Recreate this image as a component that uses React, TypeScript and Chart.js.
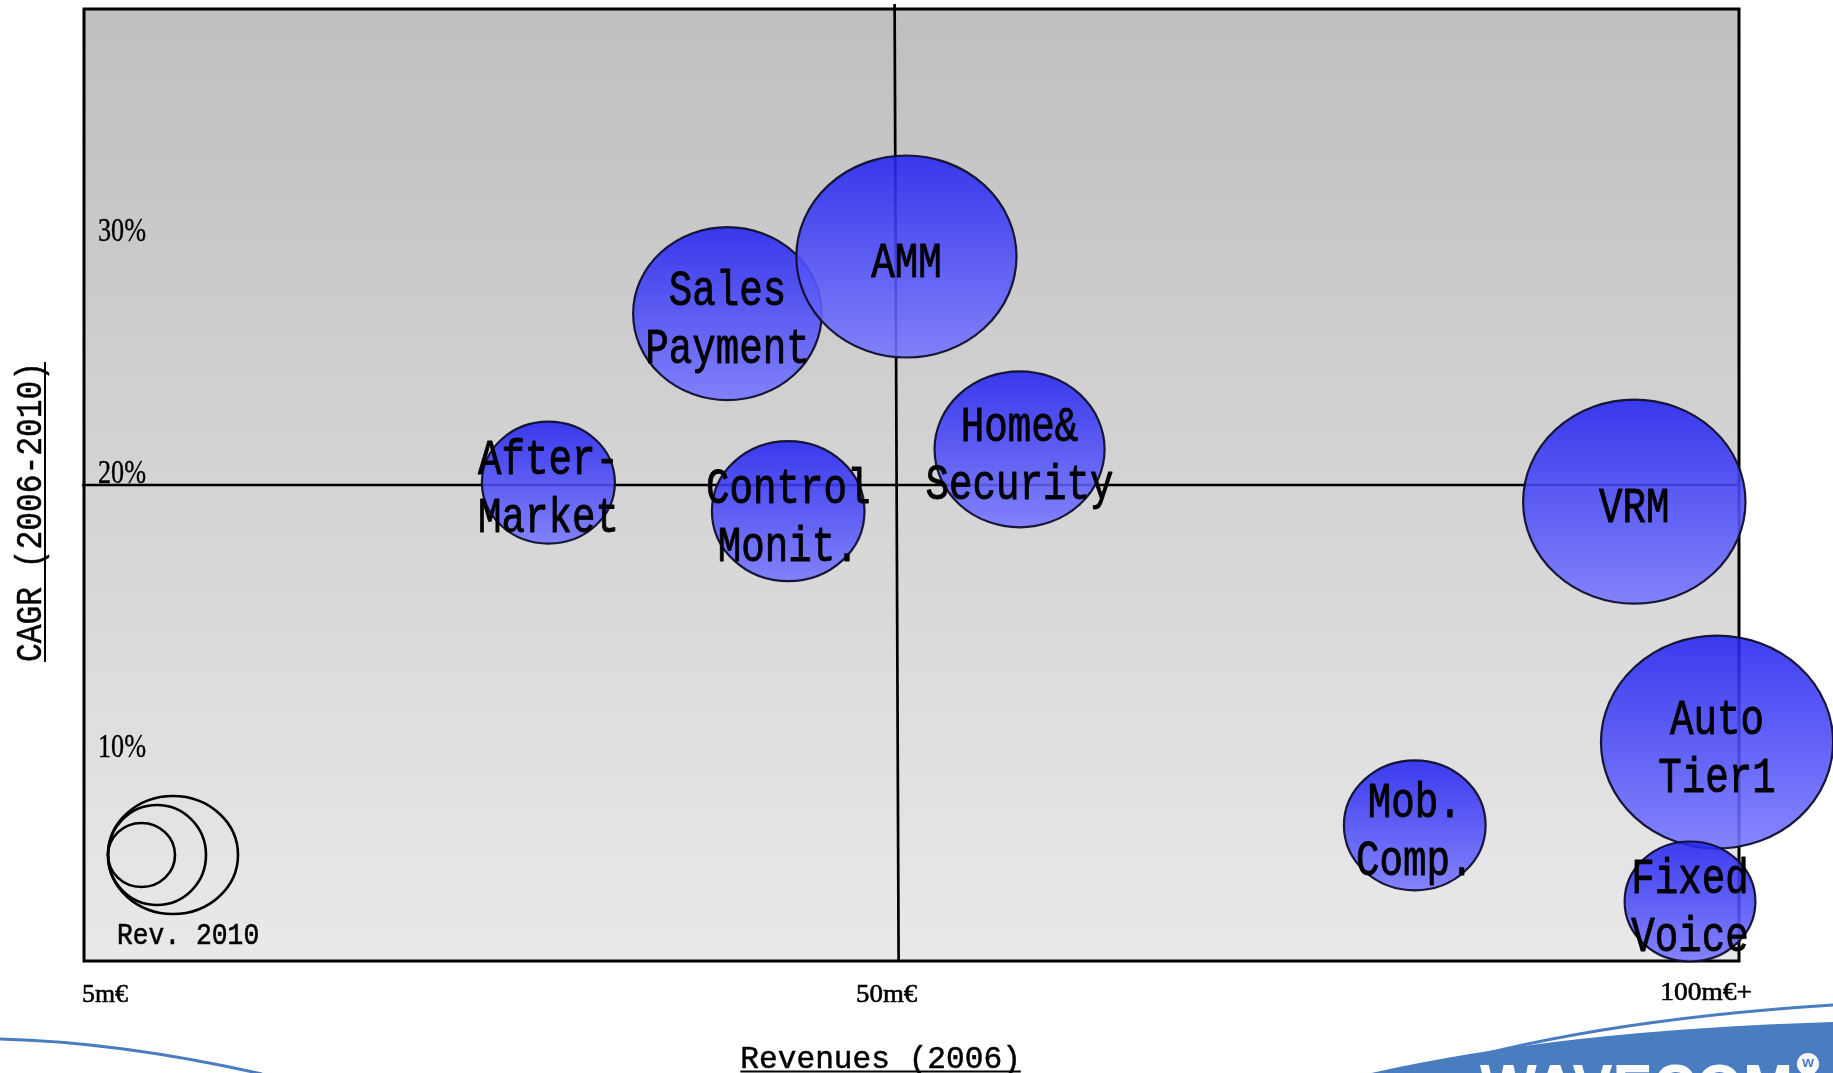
import { useEffect, useRef } from 'react';
import { Chart, registerables } from 'chart.js';

Chart.register(...registerables);

// ---- data ----
const segmentNames = [
  'Sales\nPayment',
  'AMM',
  'After-\nMarket',
  'Control\nMonit.',
  'Home&\nSecurity',
  'VRM',
  'Mob.\nComp.',
  'Auto\nTier1',
  'Fixed\nVoice',
];
// Revenues (2006), position on the 5m€ .. 100m€+ axis
const revenues2006 = [40.1, 50.7, 29.5, 43.7, 57.4, 93.8, 80.8, 98.7, 97.1];
// CAGR 2006-2010 (%)
const cagr = [27.2, 29.6, 20.1, 18.9, 21.5, 19.3, 5.7, 9.2, 2.5];
// bubble size ~ revenues 2010
const revenues2010Size = [86.5, 101, 61, 70, 78, 102, 65, 106.5, 60];

const xTickValues = [5, 50, 100];
const xTickLabels = ['5m€', '50m€', '100m€+'];
const yTickValues = [10, 20, 30];
const yTickLabels = ['10%', '20%', '30%'];
const legendText = 'Rev. 2010';
const xTitle = 'Revenues (2006)';
const yTitle = 'CAGR (2006-2010)';

// ---- styles ----
const MONO = '"Liberation Mono", "DejaVu Sans Mono", monospace';
const SERIF = '"Liberation Serif", "DejaVu Serif", serif';
const BUBBLE_ASPECT = 1.09;
const legendRings = [
  { rx: 65, ry: 59 },
  { rx: 49, ry: 50 },
  { rx: 33.5, ry: 32 },
];
const yTickOffsets = [23, -13, -17];

const capCache: Record<string, number> = {};
function getCapRatio(ctx: CanvasRenderingContext2D, family: string) {
  if (!capCache[family]) {
    ctx.save();
    ctx.font = `100px ${family}`;
    const m = ctx.measureText('H');
    capCache[family] = (m.actualBoundingBoxAscent || 66) / 100;
    ctx.restore();
  }
  return capCache[family];
}

function drawFit(
  ctx: CanvasRenderingContext2D,
  text: string,
  x: number,
  cy: number,
  capPx: number,
  width: number,
  align: CanvasTextAlign,
  family = MONO,
  embolden = 0
) {
  const ratio = getCapRatio(ctx, family);
  const fontPx = capPx / ratio;
  ctx.save();
  ctx.font = `${fontPx}px ${family}`;
  const w = ctx.measureText(text).width;
  const sx = width / w;
  ctx.translate(x, cy + capPx / 2);
  ctx.scale(sx, 1);
  ctx.textAlign = align;
  ctx.textBaseline = 'alphabetic';
  ctx.fillStyle = '#000';
  ctx.fillText(text, 0, 0);
  if (embolden > 0) {
    ctx.strokeStyle = '#000';
    ctx.lineWidth = embolden;
    ctx.lineJoin = 'round';
    ctx.strokeText(text, 0, 0);
  }
  ctx.restore();
  return width;
}

function drawMono(
  ctx: CanvasRenderingContext2D,
  text: string,
  x: number,
  cy: number,
  capPx: number,
  charW: number,
  align: CanvasTextAlign,
  embolden = 0
) {
  return drawFit(ctx, text, x, cy, capPx, charW * text.length, align, MONO, embolden);
}

const decoPlugin = {
  id: 'deco',
  beforeDatasetsDraw(chart: any) {
    const { ctx, chartArea: a, scales } = chart;
    const xs = scales.x;
    const ys = scales.y;
    ctx.save();
    const g = ctx.createLinearGradient(0, a.top, 0, a.bottom);
    g.addColorStop(0, '#bfbfbf');
    g.addColorStop(1, '#e9e9e9');
    ctx.fillStyle = g;
    ctx.fillRect(a.left, a.top, a.right - a.left, a.bottom - a.top);

    ctx.strokeStyle = '#000';
    ctx.lineWidth = 2.7;
    // horizontal 20% line
    const hy = ys.getPixelForValue(20);
    ctx.beginPath();
    ctx.moveTo(a.left - 2, hy);
    ctx.lineTo(a.right, hy);
    ctx.stroke();
    // vertical 50m€ line
    const vx = xs.getPixelForValue(50);
    ctx.beginPath();
    ctx.moveTo(vx, a.top - 5);
    ctx.lineTo(vx + 4, a.bottom);
    ctx.stroke();

    // border
    ctx.lineWidth = 3;
    ctx.strokeRect(a.left, a.top, a.right - a.left, a.bottom - a.top);
    ctx.restore();
  },
  afterDatasetsDraw(chart: any) {
    const { ctx, chartArea: a } = chart;
    const meta = chart.getDatasetMeta(0);
    const ds = chart.data.datasets[0].data as any[];
    ctx.save();
    meta.data.forEach((el: any, i: number) => {
      const ry = ds[i].r;
      const rx = ry * BUBBLE_ASPECT;
      const g = ctx.createLinearGradient(0, el.y - ry, 0, el.y + ry);
      g.addColorStop(0, 'rgba(36,36,240,0.88)');
      g.addColorStop(1, 'rgba(118,118,255,0.88)');
      ctx.beginPath();
      ctx.ellipse(el.x, el.y, rx, ry, 0, 0, Math.PI * 2);
      ctx.fillStyle = g;
      ctx.fill();
      ctx.lineWidth = 2.2;
      ctx.strokeStyle = 'rgba(15,15,45,0.95)';
      ctx.stroke();
    });
    // labels
    meta.data.forEach((el: any, i: number) => {
      const lines = segmentNames[i].split('\n');
      const lh = 58;
      const top = el.y + 4 - ((lines.length - 1) * lh) / 2;
      lines.forEach((ln, k) => {
        drawMono(ctx, ln, el.x, top + k * lh, 33, 23.5, 'center', 0.9);
      });
    });

    // size legend
    const lx = a.left + 24;
    const lcy = a.bottom - 106;
    ctx.strokeStyle = '#000';
    ctx.lineWidth = 2.6;
    legendRings.forEach((r) => {
      ctx.beginPath();
      ctx.ellipse(lx + r.rx, lcy, r.rx, r.ry, 0, 0, Math.PI * 2);
      ctx.stroke();
    });
    drawMono(ctx, legendText, a.left + 33, a.bottom - 27, 20, 15.8, 'left', 0.6);
    ctx.restore();
  },
  afterDraw(chart: any) {
    const { ctx, chartArea: a, scales } = chart;
    const xs = scales.x;
    const ys = scales.y;
    ctx.save();
    // y tick labels (inside plot)
    yTickValues.forEach((v, i) => {
      drawFit(ctx, yTickLabels[i], a.left + 14, ys.getPixelForValue(v) + yTickOffsets[i], 22, 48, 'left', SERIF, 0.4);
    });
    // x tick labels
    xTickValues.forEach((v, i) => {
      const cy = a.bottom + 32;
      const label = xTickLabels[i];
      const w = 15.3 * label.length;
      if (i === 0) drawFit(ctx, label, a.left - 2, cy, 17, w, 'left', SERIF, 0.6);
      else if (i === xTickValues.length - 1) drawFit(ctx, label, a.right + 13, cy - 2, 17, w, 'right', SERIF, 0.6);
      else drawFit(ctx, label, xs.getPixelForValue(v) - 8, cy, 17, w, 'center', SERIF, 0.6);
    });

    // x title, underlined
    const tx = xs.getPixelForValue(50) - 14;
    const tw = drawMono(ctx, xTitle, tx, 1057, 21, 18.7, 'center', 0.5);
    ctx.fillStyle = '#000';
    ctx.fillRect(tx - tw / 2, 1070.5, tw, 2);

    // y title rotated, underlined
    ctx.save();
    ctx.translate(28.5, 512);
    ctx.rotate(-Math.PI / 2);
    const yw = drawMono(ctx, yTitle, 0, 0, 25, 18.75, 'center', 0.5);
    ctx.fillStyle = '#000';
    ctx.fillRect(-yw / 2, 15.5, yw, 2);
    ctx.restore();

    // decorative swooshes
    const blue = '#4a7cc0';
    ctx.strokeStyle = blue;
    ctx.lineWidth = 3;
    ctx.beginPath();
    ctx.moveTo(0, 1039);
    ctx.quadraticCurveTo(120, 1042, 262, 1074);
    ctx.stroke();

    ctx.fillStyle = blue;
    ctx.beginPath();
    ctx.moveTo(1367, 1074);
    ctx.quadraticCurveTo(1560, 1030, 1834, 1022);
    ctx.lineTo(1834, 1074);
    ctx.closePath();
    ctx.fill();

    ctx.beginPath();
    ctx.moveTo(1412, 1074);
    ctx.quadraticCurveTo(1580, 1021, 1834, 1005);
    ctx.lineWidth = 3;
    ctx.stroke();

    // logo text (mostly cut off at page bottom)
    ctx.fillStyle = '#ffffff';
    ctx.font = 'bold 64px "Liberation Sans", Arial, sans-serif';
    ctx.textAlign = 'left';
    ctx.textBaseline = 'alphabetic';
    ctx.save();
    ctx.translate(1480, 1110);
    const lw = ctx.measureText('WAVECOM').width;
    ctx.scale(313 / lw, 1);
    ctx.fillText('WAVECOM', 0, 0);
    ctx.restore();
    ctx.beginPath();
    ctx.arc(1808, 1064, 11, 0, Math.PI * 2);
    ctx.fill();
    ctx.fillStyle = blue;
    ctx.font = 'bold 15px "Liberation Sans", Arial, sans-serif';
    ctx.textAlign = 'center';
    ctx.textBaseline = 'middle';
    ctx.fillText('w', 1808, 1063);
    ctx.restore();
  },
};

export default function App() {
  const ref = useRef<HTMLCanvasElement>(null);
  useEffect(() => {
    document.body.style.margin = '0';
    const points = revenues2006.map((x, i) => ({ x, y: cagr[i], r: revenues2010Size[i] }));
    const chart = new Chart(ref.current as HTMLCanvasElement, {
      type: 'bubble',
      data: {
        datasets: [
          {
            data: points,
            backgroundColor: 'rgba(0,0,0,0)',
            borderColor: 'rgba(0,0,0,0)',
            borderWidth: 0,
            hoverRadius: 0,
            clip: false as any,
          } as any,
        ],
      },
      options: {
        animation: false,
        responsive: true,
        maintainAspectRatio: false,
        events: [],
        layout: { autoPadding: false, padding: { left: 84, top: 9, right: 94, bottom: 112 } } as any,
        scales: {
          x: { type: 'linear', min: 2, max: 100, display: false },
          y: { type: 'linear', min: 0, max: 40, display: false },
        },
        plugins: {
          legend: { display: false },
          tooltip: { enabled: false },
        },
      },
      plugins: [decoPlugin as any],
    });
    return () => chart.destroy();
  }, []);
  return (
    <div style={{ position: 'fixed', left: 0, top: 0, width: 1833, height: 1073, background: '#fff', overflow: 'hidden' }}>
      <canvas ref={ref} />
    </div>
  );
}
